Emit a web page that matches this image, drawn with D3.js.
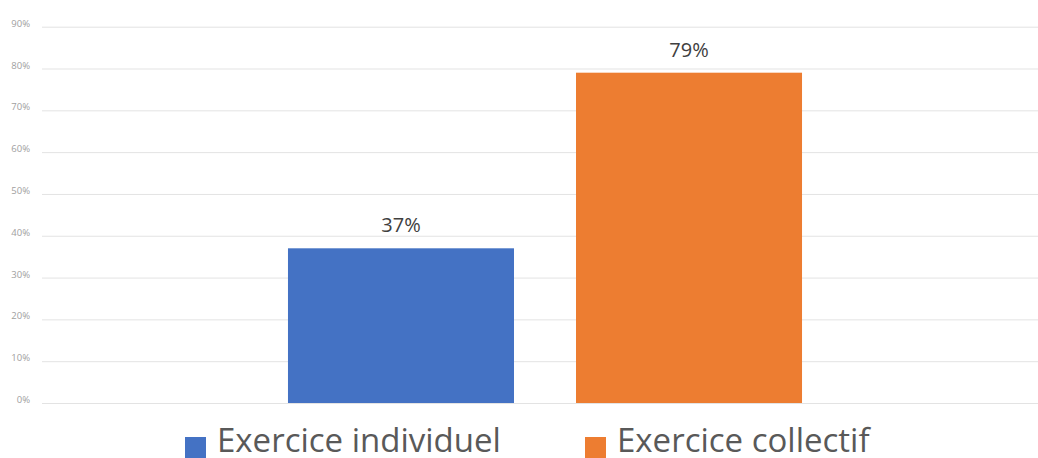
<!DOCTYPE html>
<html>
<head>
<meta charset="utf-8">
<script src="https://cdn.jsdelivr.net/npm/d3@7"></script>
<style>
  html, body { margin: 0; padding: 0; background: #fff; }
  svg { display: block; }
</style>
</head>
<body>
<svg id="chart" width="1038" height="458"></svg>
<script>
const categories = [""];
const seriesNames = ["Exercice individuel", "Exercice collectif"];
const seriesValues = [0.37, 0.79];
const seriesColors = ["#4472C4", "#ED7D31"];
const tickValues = [0, 0.1, 0.2, 0.3, 0.4, 0.5, 0.6, 0.7, 0.8, 0.9];

const svg = d3.select("#chart");
const W = 1038, H = 458;
const plot = { left: 42, right: 1048, top: 26.7, bottom: 403 };

const y = d3.scaleLinear().domain([0, 0.9]).range([plot.bottom, plot.top]);
const x0 = d3.scaleBand().domain(categories).range([plot.left, plot.right]).padding(0);
const x1 = d3.scaleBand().domain(seriesNames).range([0, x0.bandwidth()])
  .paddingInner(0.2153).paddingOuter(0.854);

// gridlines
const yAxis = d3.axisLeft(y).tickValues(tickValues).tickSize(-(W - plot.left)).tickPadding(12)
  .tickFormat(d3.format(".0%"));
const gA = svg.append("g").attr("transform", `translate(${plot.left},0)`).call(yAxis);
gA.select(".domain").remove();
gA.selectAll(".tick line").attr("stroke", "#e3e3e3").attr("stroke-width", 1);
gA.selectAll(".tick text")
  .attr("fill", "#a0a0a0")
  .attr("font-family", "'Open Sans', sans-serif")
  .attr("font-size", 9.5)
  .attr("dy", "-0.05em");

// bars
const gBars = svg.append("g").attr("transform", `translate(${x0(categories[0])},0)`);
const data = seriesNames.map((s, i) => ({ name: s, value: seriesValues[i], color: seriesColors[i] }));
gBars.selectAll("rect").data(data).enter().append("rect")
  .attr("x", d => x1(d.name))
  .attr("y", d => y(d.value))
  .attr("width", x1.bandwidth())
  .attr("height", d => y(0) - y(d.value))
  .attr("fill", d => d.color);

gBars.selectAll("text.val").data(data).enter().append("text")
  .attr("class", "val")
  .attr("x", d => x1(d.name) + x1.bandwidth() / 2)
  .attr("y", d => y(d.value) - 16)
  .attr("text-anchor", "middle")
  .attr("font-family", "'Open Sans', sans-serif")
  .attr("font-size", 20)
  .attr("fill", "#404040")
  .text(d => d3.format(".0%")(d.value));

// legend
const legendX = [185, 585];
const lg = svg.append("g");
data.forEach((d, i) => {
  lg.append("rect").attr("x", legendX[i]).attr("y", 437).attr("width", 21).attr("height", 21).attr("fill", d.color);
  lg.append("text").attr("x", legendX[i] + 32).attr("y", 452)
    .attr("font-family", "'Open Sans', sans-serif")
    .attr("font-size", 33)
    .attr("fill", "#595959")
    .text(d.name);
});
</script>
</body>
</html>
